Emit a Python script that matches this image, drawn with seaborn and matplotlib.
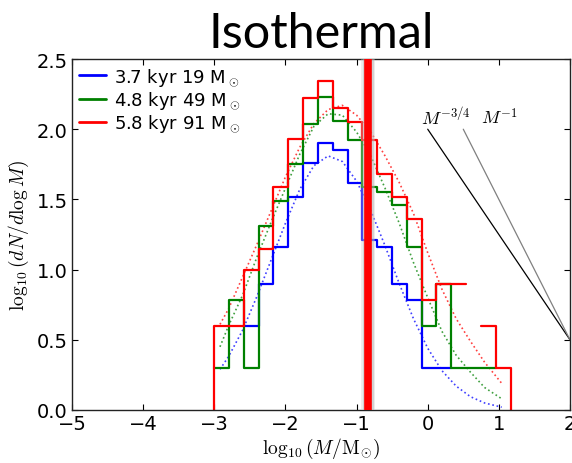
import numpy as np
import pandas as pd
import matplotlib
matplotlib.use("Agg")
import matplotlib.pyplot as plt
import seaborn as sns
from matplotlib import patheffects as pe
from matplotlib.lines import Line2D

# ---------------- data ----------------
bin_edges = [-3.00, -2.79, -2.58, -2.37, -2.17, -1.96, -1.75, -1.54, -1.33, -1.12,
             -0.92, -0.71, -0.50, -0.29, -0.08, 0.12, 0.33, 0.54, 0.75, 0.96, 1.17]
nan = np.nan
hist_blue = [nan, nan, 0.60, 0.90, 1.16, 1.52, 1.76, 1.90, 1.85, 1.62,
             1.21, 1.16, 0.90, 0.78, 0.30, 0.30, nan, nan, nan, nan]
hist_green = [0.30, 0.78, 0.30, 1.31, 1.49, 1.75, 2.04, 2.23, 2.06, 1.92,
              1.59, 1.55, 1.46, 1.16, 0.60, 0.90, 0.30, 0.30, 0.30, nan]
hist_red = [0.60, 0.60, 1.00, 1.15, 1.59, 1.93, 2.22, 2.34, 2.15, 2.05,
            1.92, 1.68, 1.52, 1.36, 0.78, 0.90, 0.90, nan, 0.60, 0.30]

fit_x = [-2.92, -2.8, -2.6, -2.4, -2.2, -2.0, -1.8, -1.6, -1.4, -1.2, -1.0,
         -0.8, -0.6, -0.4, -0.2, 0.0, 0.2, 0.4, 0.6, 0.8, 1.04]
fit_blue = [0.29, 0.38, 0.57, 0.81, 1.07, 1.33, 1.57, 1.74, 1.81, 1.77, 1.63,
            1.42, 1.17, 0.90, 0.65, 0.44, 0.28, 0.17, 0.095, 0.05, 0.02]
fit_green = [0.45, 0.60, 0.82, 1.09, 1.34, 1.58, 1.82, 2.02, 2.11, 2.10, 1.98,
             1.81, 1.58, 1.33, 1.05, 0.80, 0.56, 0.39, 0.27, 0.16, 0.08]
fit_red = [0.61, 0.72, 0.95, 1.18, 1.42, 1.66, 1.87, 2.04, 2.14, 2.17, 2.10,
           1.98, 1.81, 1.62, 1.40, 1.12, 0.86, 0.65, 0.49, 0.34, 0.19]

series_names = ["blue", "green", "red"]
series_labels = ["3.7 kyr 19 M$_\\odot$", "4.8 kyr 49 M$_\\odot$", "5.8 kyr 91 M$_\\odot$"]
series_colors = {"blue": "#0000ff", "green": "#008000", "red": "#ff0000"}
drop_to_zero = {"blue": False, "green": False, "red": True}

vline_x = -0.845
powerlaw_34_x = [0.0, 2.0]
powerlaw_34_y = [2.0, 0.5]
powerlaw_1_x = [0.5, 2.0]
powerlaw_1_y = [2.0, 0.5]

# ---------------- build long tables ----------------
rows = []
for name, vals in zip(series_names, [hist_blue, hist_green, hist_red]):
    seg = 0
    run = []
    for i, v in enumerate(vals + [nan]):
        if np.isfinite(v):
            run.append(i)
        elif run:
            pts = [(bin_edges[k], vals[k]) for k in run]
            pts.append((bin_edges[run[-1] + 1], vals[run[-1]]))
            if drop_to_zero[name] and run[0] == 0:
                pts.insert(0, (bin_edges[0], 0.0))
            if drop_to_zero[name] and run[-1] == len(vals) - 1:
                pts.append((bin_edges[-1], 0.0))
            for x, y in pts:
                rows.append({"x": x, "y": y, "series": name, "seg": f"{name}{seg}"})
            seg += 1
            run = []
hist_df = pd.DataFrame(rows)

fit_df = pd.DataFrame({
    "x": fit_x * 3,
    "y": fit_blue + fit_green + fit_red,
    "series": ["blue"] * len(fit_x) + ["green"] * len(fit_x) + ["red"] * len(fit_x),
})

# ---------------- plotting ----------------
sns.set_style("ticks")
plt.rcParams["font.family"] = ["DejaVu Sans"]
plt.rcParams["mathtext.fontset"] = "cm"
for key in ["text.color", "axes.labelcolor", "xtick.color", "ytick.color", "axes.edgecolor"]:
    plt.rcParams[key] = "black"

fig = plt.figure(figsize=(5.72, 4.64), dpi=100)
ax = fig.add_axes([72 / 572, 1 - 411 / 464, (570 - 72) / 572, (411 - 60) / 464])

sns.lineplot(data=fit_df, x="x", y="y", hue="series", palette=series_colors,
             hue_order=series_names, sort=False, estimator=None, legend=False,
             linestyle=":", lw=1.2, alpha=0.75, ax=ax)

sns.lineplot(data=hist_df, x="x", y="y", hue="series", units="seg",
             palette=series_colors, hue_order=series_names, sort=False,
             estimator=None, legend=False, drawstyle="steps-post", lw=1.6, ax=ax)

ax.axvline(vline_x, color="#ff0000", lw=5.5, zorder=5,
           path_effects=[pe.Stroke(linewidth=10, foreground="#cccccc", alpha=0.35),
                         pe.Stroke(linewidth=8, foreground="#aaaaaa", alpha=0.4),
                         pe.Normal()])

sns.lineplot(x=powerlaw_34_x, y=powerlaw_34_y, color="black", lw=0.9, ax=ax)
sns.lineplot(x=powerlaw_1_x, y=powerlaw_1_y, color="gray", lw=0.9, ax=ax)
ax.text(-0.1, 2.01, r"$M^{-3/4}$", fontsize=13, ha="left", va="bottom")
ax.text(0.75, 2.01, r"$M^{-1}$", fontsize=13, ha="left", va="bottom")

ax.set_xlim(-5, 2)
ax.set_ylim(0, 2.5)
ax.set_xticks(range(-5, 3))
ax.set_yticks([0, 0.5, 1.0, 1.5, 2.0, 2.5])
ax.set_yticklabels(["0.0", "0.5", "1.0", "1.5", "2.0", "2.5"])
ax.tick_params(direction="in", top=True, right=True, length=4, width=0.8,
               labelsize=14, pad=3, colors="black")
for s in ax.spines.values():
    s.set_linewidth(1.0)
    s.set_color("#222222")

ax.set_xlabel(r"$\log_{10}(M/\mathrm{M}_{\odot})$", fontsize=14, labelpad=2)
ax.set_ylabel(r"$\log_{10}(dN/d\log M)$", fontsize=14, labelpad=4)
ax.set_title("Isothermal", fontsize=35, family="Lato", pad=9, color="black")

handles = [Line2D([], [], color=series_colors[n], lw=2) for n in series_names]
ax.legend(handles, series_labels, loc="upper left", frameon=False, fontsize=13,
          handlelength=1.5, handletextpad=0.4, labelspacing=0.1,
          borderaxespad=0.2, borderpad=0.2)

fig.savefig("out.png", dpi=100)
